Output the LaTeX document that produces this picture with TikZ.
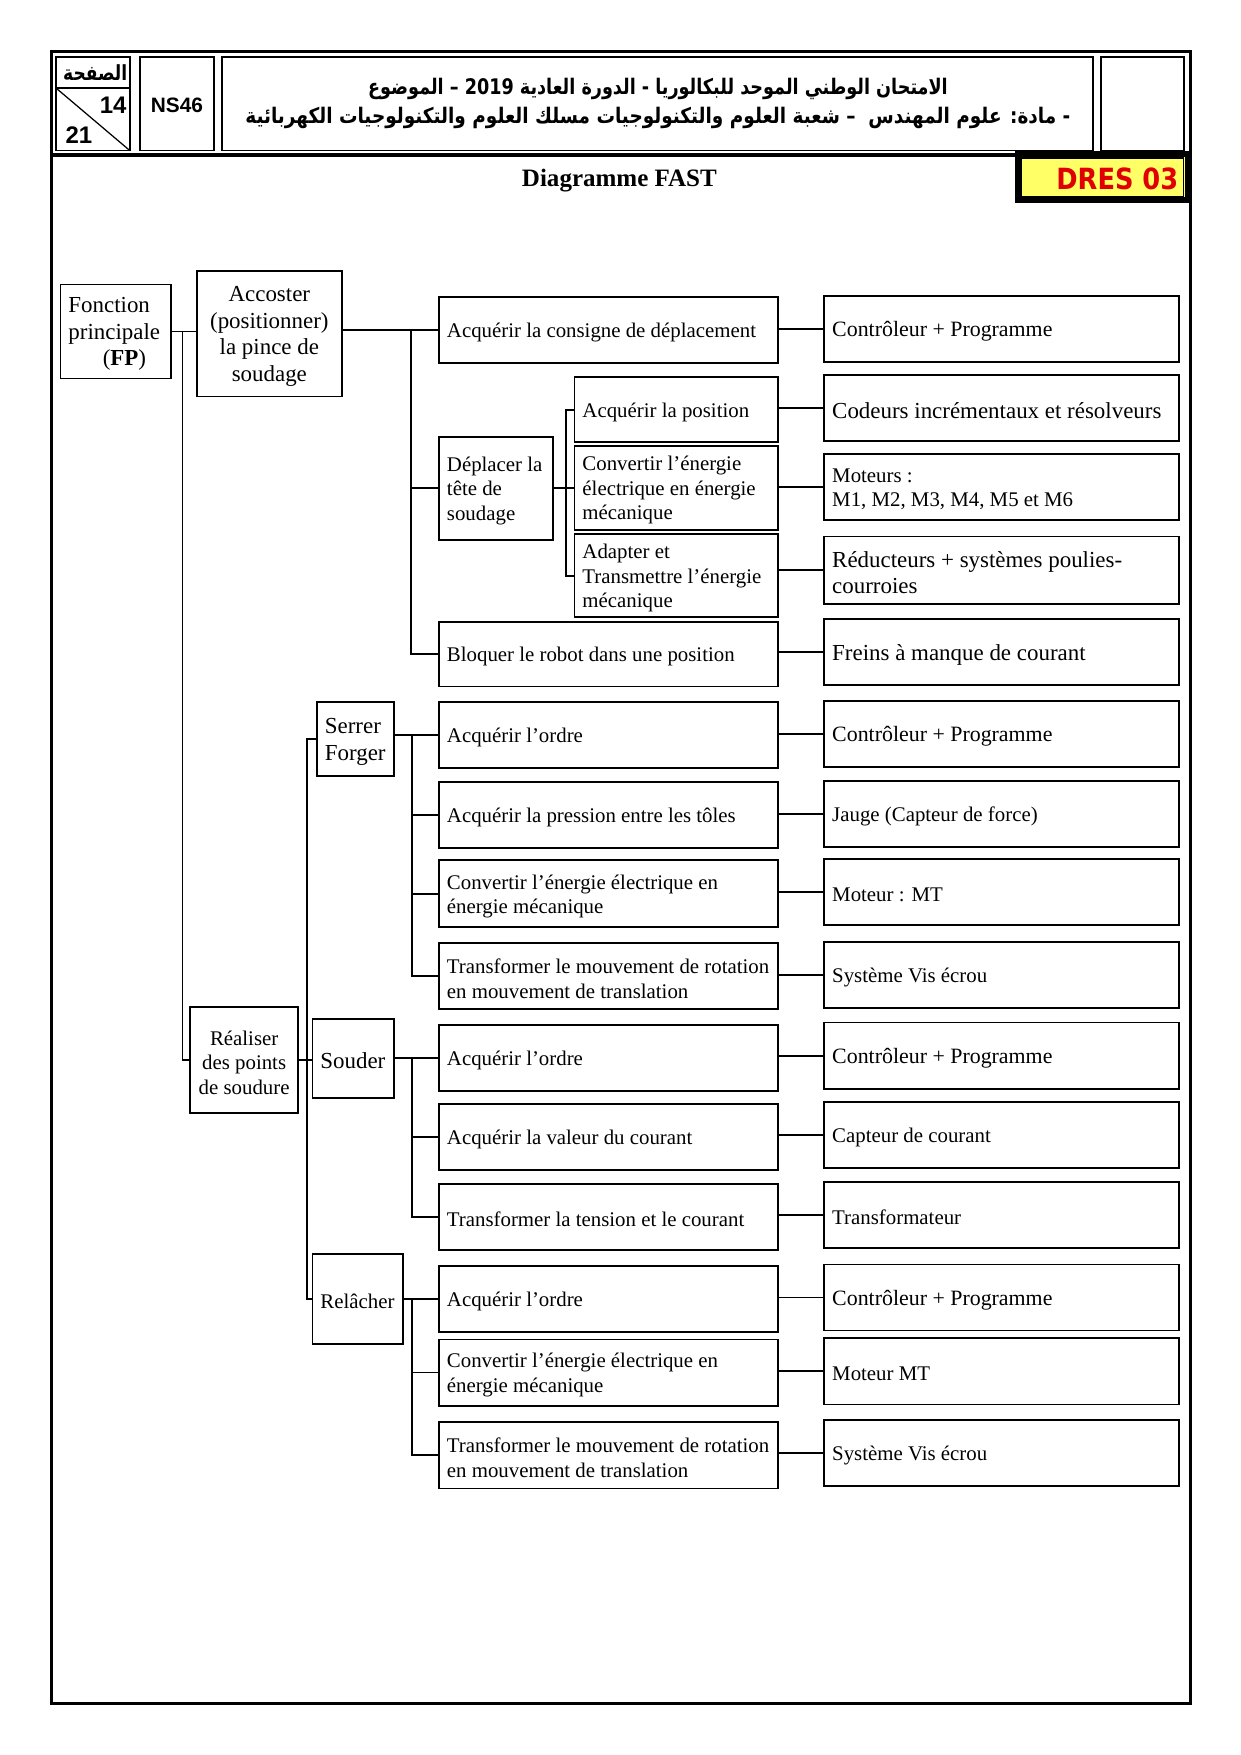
\documentclass[tikz,border=0pt]{standalone}
\usepackage{fontspec}
\setmainfont{Liberation Serif}
\newfontfamily\arabicfont[Script=Arabic]{DejaVu Sans}
\newfontfamily\arialfont{Liberation Sans}
\newfontfamily\dejavufont{DejaVu Sans}
\TeXXeTstate=1
\definecolor{dresyellow}{RGB}{255,255,102}
\definecolor{dresred}{RGB}{225,0,0}
\tikzset{
  frame/.style={draw, line width=0.9pt, inner sep=0pt, outer sep=0pt},
  txt/.style={inner sep=0pt, outer sep=0pt},
  btxt/.style={inner sep=0pt, outer sep=0pt, yshift=-1.2pt},
  conn/.style={line width=0.9pt},
  fA/.style={font=\fontsize{10}{11.7}\selectfont},
  fB/.style={font=\fontsize{11}{12.8}\selectfont},
  fC/.style={font=\fontsize{10.5}{12.2}\selectfont},
  hdr/.style={draw, line width=0.8pt},
}
% name x1 y1 x2 y2 fontstyle text  (left aligned text)
\newcommand\boxL[7]{%
  \pgfmathsetlengthmacro\mw{(#4-#2)*0.5373pt}%
  \pgfmathsetlengthmacro\mh{(#5-#3)*0.5373pt}%
  \node[frame, minimum width=\mw, minimum height=\mh] (#1) at ({(#2+#4)/2},{(#3+#5)/2}) {};%
  \node[btxt, #6, anchor=west, align=left] (#1-t) at ([xshift=3.8pt]#1.west) {#7};}
% centered text
\newcommand\boxC[7]{%
  \pgfmathsetlengthmacro\mw{(#4-#2)*0.5373pt}%
  \pgfmathsetlengthmacro\mh{(#5-#3)*0.5373pt}%
  \node[frame, minimum width=\mw, minimum height=\mh] (#1) at ({(#2+#4)/2},{(#3+#5)/2}) {};%
  \node[btxt, #6, align=center] (#1-t) at (#1.center) {#7};}
\begin{document}
\begin{tikzpicture}[x=0.5373pt,y=-0.5373pt]
\useasboundingbox (0,0) rectangle (1108,1567);
% page frame
\draw[line width=1.5pt] (46,46) rectangle (1063,1521);
\draw[line width=2pt] (46,138.5) -- (1063,138.5);
% header cells
\draw[hdr] (50,51) rectangle (116,134.5);
\draw[hdr] (50,78.6) -- (116,78.6);
\draw[line width=0.6pt] (50,78.6) -- (116,134.5);
\draw[hdr] (125,51) rectangle (191,134.5);
\draw[hdr] (198,51) rectangle (976,134.5);
\draw[hdr] (983,51) rectangle (1057,134.5);
\node[txt] (page) at (85,65) {\scalebox{0.82}[1]{\arabicfont\bfseries\fontsize{10}{12}\selectfont\beginR الصفحة\endR}};
\node[txt] (p14) at (101,94) {\arialfont\bfseries\fontsize{11.5}{13}\selectfont 14};
\node[txt] (p21) at (70.5,120.5) {\arialfont\bfseries\fontsize{11.5}{13}\selectfont 21};
\node[txt] (ns) at (158,94) {\arialfont\bfseries\fontsize{10}{12}\selectfont NS46};
\node[txt] (ar1) at (587.5,79) {\scalebox{0.82}[1]{\arabicfont\bfseries\fontsize{10.3}{12}\selectfont\beginR الامتحان الوطني الموحد للبكالوريا - الدورة العادية \beginL 2019\endL{} – الموضوع\endR}};
\node[txt] (ar2) at (587.5,105) {\scalebox{0.86}[1]{\arabicfont\bfseries\fontsize{10.3}{12}\selectfont\beginR - مادة: علوم المهندس \ – شعبة العلوم والتكنولوجيات مسلك العلوم والتكنولوجيات الكهربائية\endR}};
% DRES box
\node[draw, line width=3.2pt, fill=dresyellow, minimum width=152*0.5373pt, minimum height=41*0.5373pt, inner sep=0pt] (dres) at (985,158) {};
\draw[line width=0.6pt] (912,141) rectangle (1057,175.6);
\node[txt, anchor=east, text=dresred] (drest) at (1052,160) {\scalebox{0.88}[1]{\dejavufont\bfseries\fontsize{14}{16}\selectfont DRES 03}};
% title
\node[btxt] (title) at (553,159) {\bfseries\fontsize{12}{14}\selectfont Diagramme FAST};
% bar x positions
\coordinate (xb0) at (163,0);
\coordinate (xb1) at (367,0);
\coordinate (xb2) at (505,0);
\coordinate (xb3) at (274,0);
\coordinate (xb4) at (368,0);
% level 1
\boxL{FP}{54}{254}{153}{338}{fB}{Fonction\\principale\\\hspace*{1.5em}(\textbf{FP})}
\boxC{Acc}{176}{242}{305}{354}{fB}{Accoster\\(positionner)\\la pince de\\soudage}
\boxC{Real}{170}{899}{266}{994}{fA}{Réaliser\\des points\\de soudure}
% upper branch
\boxL{A1}{392}{265}{695}{324}{fA}{Acquérir la consigne de déplacement}
\boxL{Dep}{392}{390}{494}{482}{fA}{Déplacer la\\tête de\\soudage}
\boxL{S1}{513}{337}{695}{395}{fA}{Acquérir la position}
\boxL{S2}{513}{398}{695}{473}{fA}{Convertir l’énergie\\électrique en énergie\\mécanique}
\boxL{S3}{513}{477}{695}{551}{fA}{Adapter et\\Transmettre l’énergie\\mécanique}
\boxL{A2}{392}{555}{695}{613}{fA}{Bloquer le robot dans une position}
\boxL{R1}{736}{264}{1053}{323}{fC}{Contrôleur + Programme}
\boxL{R2}{736}{335}{1053}{394}{fB}{Codeurs incrémentaux et résolveurs}
\boxL{R3}{736}{405}{1053}{464}{fA}{Moteurs :\\M1, M2, M3, M4, M5 et M6}
\boxL{R4}{736}{479}{1053}{539}{fB}{Réducteurs + systèmes poulies-\\courroies}
\boxL{R5}{736}{553}{1053}{612}{fB}{Freins à manque de courant}
% lower branch level 2
\boxL{Serrer}{283}{627}{352}{693}{fB}{Serrer\\Forger}
\boxL{Souder}{279}{910}{352}{980}{fB}{Souder}
\boxL{Rel}{279}{1120}{360}{1200}{fA}{Relâcher}
% Serrer functions
\boxL{B1}{392}{627}{695}{686}{fA}{Acquérir l’ordre}
\boxL{B2}{392}{698}{695}{757}{fA}{Acquérir la pression entre les tôles}
\boxL{B3}{392}{768}{695}{828}{fA}{Convertir l’énergie électrique en\\énergie mécanique}
\boxL{B4}{392}{842}{695}{901}{fA}{Transformer le mouvement de rotation\\en mouvement de translation}
\boxL{RB1}{736}{626}{1053}{685}{fC}{Contrôleur + Programme}
\boxL{RB2}{736}{697}{1053}{756}{fA}{Jauge (Capteur de force)}
\boxL{RB3}{736}{767}{1053}{826}{fA}{Moteur : MT}
\boxL{RB4}{736}{841}{1053}{900}{fA}{Système Vis écrou}
% Souder functions
\boxL{C1}{392}{915}{695}{974}{fA}{Acquérir l’ordre}
\boxL{C2}{392}{986}{695}{1045}{fA}{Acquérir la valeur du courant}
\boxL{C3}{392}{1057}{695}{1116}{fA}{Transformer la tension et le courant}
\boxL{RC1}{736}{913}{1053}{972}{fC}{Contrôleur + Programme}
\boxL{RC2}{736}{984}{1053}{1043}{fA}{Capteur de courant}
\boxL{RC3}{736}{1055}{1053}{1114}{fA}{Transformateur}
% Relacher functions
\boxL{D1}{392}{1130}{695}{1189}{fA}{Acquérir l’ordre}
\boxL{D2}{392}{1196}{695}{1255}{fA}{Convertir l’énergie électrique en\\énergie mécanique}
\boxL{D3}{392}{1270}{695}{1329}{fA}{Transformer le mouvement de rotation\\en mouvement de translation}
\boxL{RD1}{736}{1129}{1053}{1188}{fC}{Contrôleur + Programme}
\boxL{RD2}{736}{1195}{1053}{1254}{fA}{Moteur MT}
\boxL{RD3}{736}{1268}{1053}{1327}{fA}{Système Vis écrou}
% connectors
\draw[conn] (FP.east) -- (Acc.west |- FP.east);
\draw[conn] (FP.east -| xb0) |- (Real.west);
\draw[conn] (Acc.east |- A1.west) -- (A1.west);
\draw[conn] (A1.west -| xb1) |- (A2.west);
\draw[conn] (Dep.west -| xb1) -- (Dep.west);
\draw[conn] (Dep.east) -- (Dep.east -| xb2);
\draw[conn] (S1.west) -| (xb2 |- S3.west) -- (S3.west);
\draw[conn] (S2.west -| xb2) -- (S2.west);
\foreach \a/\b in {A1/R1,S1/R2,S2/R3,S3/R4,A2/R5,B1/RB1,B2/RB2,B3/RB3,B4/RB4,C1/RC1,C2/RC2,C3/RC3,D1/RD1,D2/RD2,D3/RD3}
  \draw[conn] (\a.east |- \b.west) -- (\b.west);
\draw[conn] (Real.east) -- (Souder.west |- Real.east);
\draw[conn] (Serrer.west) -| (xb3 |- Rel.west) -- (Rel.west);
\draw[conn] (Serrer.east |- B1.west) -- (B1.west);
\draw[conn] (B1.west -| xb4) |- (B4.west);
\draw[conn] (B2.west -| xb4) -- (B2.west);
\draw[conn] (B3.west -| xb4) -- (B3.west);
\draw[conn] (Souder.east |- C1.west) -- (C1.west);
\draw[conn] (C1.west -| xb4) |- (C3.west);
\draw[conn] (C2.west -| xb4) -- (C2.west);
\draw[conn] (Rel.east |- D1.west) -- (D1.west);
\draw[conn] (D1.west -| xb4) |- (D3.west);
\draw[conn] (D2.west -| xb4) -- (D2.west);
\end{tikzpicture}
\end{document}
